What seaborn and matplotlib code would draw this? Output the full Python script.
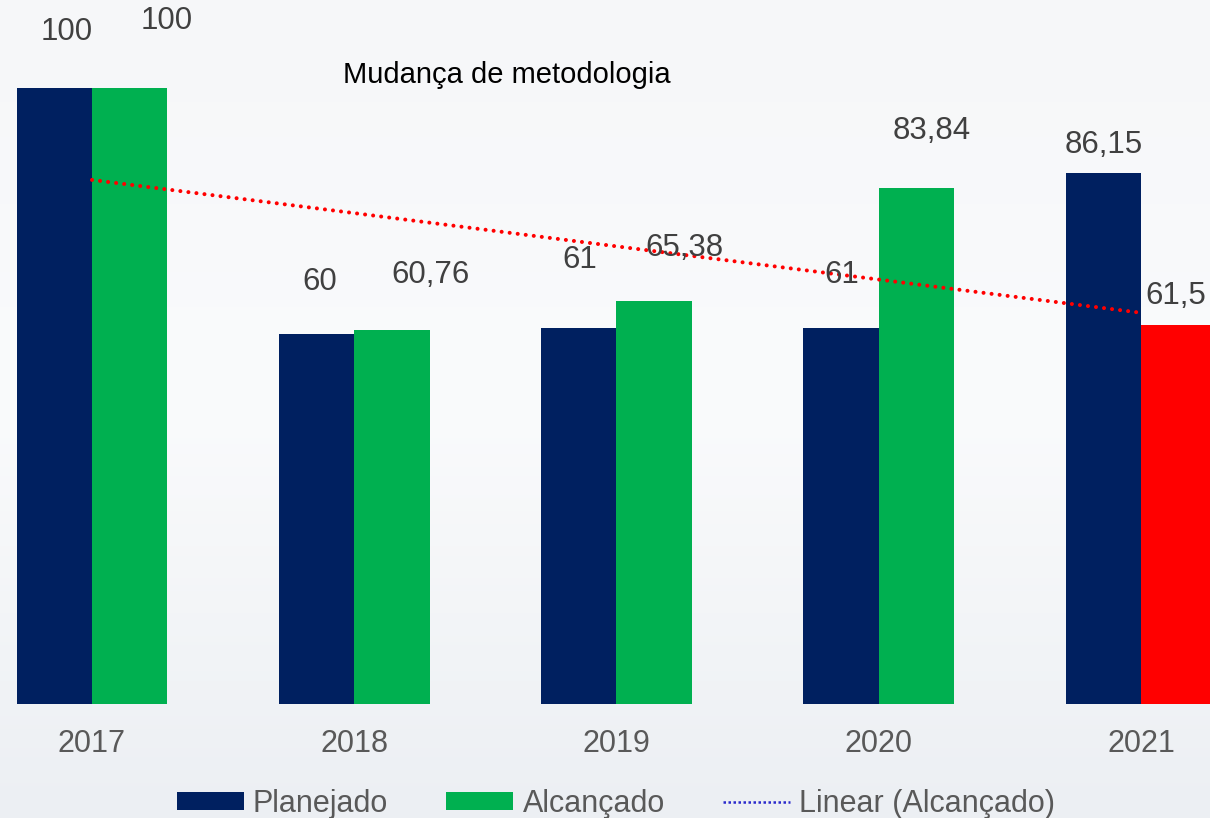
import numpy as np
import pandas as pd
import matplotlib
matplotlib.use("Agg")
import matplotlib.pyplot as plt
from matplotlib.patches import Patch
from matplotlib.lines import Line2D
from matplotlib.colors import LinearSegmentedColormap
import seaborn as sns

# ---- data ----
years = ["2017", "2018", "2019", "2020", "2021"]
planejado = [100, 60, 61, 61, 86.15]
alcancado = [100, 60.76, 65.38, 83.84, 61.5]
series_names = ["Planejado", "Alcançado"]
trend_name = "Linear (Alcançado)"
note_text = "Mudança de metodologia"

# ---- styles ----
NAVY = "#002060"
GREEN = "#00B050"
RED = "#FF0000"
LABEL_C = "#404040"
TICK_C = "#595959"
# label offsets (pixels: dx right, dy up) relative to bar top centre
off_plan = [(12, 56), (3, 52), (1, 68), (1, 53), (0, 28)]
off_alc = [(37, 67), (39, 55), (30, 53), (15, 57), (-3, 29)]

sns.set_theme(style="white")
plt.rcParams["font.family"] = ["Liberation Sans", "DejaVu Sans"]

W, H = 1210, 818
fig = plt.figure(figsize=(W / 100, H / 100), dpi=100)

# background gradient
bg = fig.add_axes([0, 0, 1, 1], zorder=0)
cmap = LinearSegmentedColormap.from_list("bg", ["#f6f7f9", "#fafbfc", "#eceff3"])
grad = np.linspace(0, 1, 256).reshape(-1, 1)
bg.imshow(grad, aspect="auto", cmap=cmap, extent=[0, 1, 0, 1], origin="upper")
bg.axis("off")

ax = fig.add_axes([0, 114 / H, 1, 704 / H], zorder=1)
ax.set_facecolor("none")

df = pd.DataFrame({
    "Ano": years * 2,
    "Valor": planejado + alcancado,
    "Serie": [series_names[0]] * len(years) + [series_names[1]] * len(years),
})

sns.barplot(data=df, x="Ano", y="Valor", hue="Serie", hue_order=series_names,
            palette=[NAVY, GREEN], saturation=1, width=0.575, gap=0,
            legend=False, ax=ax, linewidth=0)
ax.containers[1][len(years) - 1].set_facecolor(RED)

# linear trend of Alcançado
sns.regplot(x=np.arange(len(years)), y=np.array(alcancado), scatter=False, ci=None,
            truncate=True, ax=ax,
            line_kws=dict(color=RED, lw=2.9, linestyle=(0, (0.01, 2.0)),
                          dash_capstyle="round", zorder=3))

# value labels
px2pt = 0.72
for cont, vals, offs in [(ax.containers[0], planejado, off_plan),
                         (ax.containers[1], alcancado, off_alc)]:
    for bar, v, (dx, dy) in zip(cont, vals, offs):
        cx = bar.get_x() + bar.get_width() / 2
        txt = f"{v:g}".replace(".", ",")
        ax.annotate(txt, xy=(cx, v), xytext=(dx * px2pt, dy * px2pt),
                    textcoords="offset points", ha="center", va="center",
                    fontsize=22.5, color=LABEL_C, annotation_clip=False, zorder=4)

ax.set_xlim(-92 / 262.25, (W - 92) / 262.25)
ax.set_ylim(0, 704 / 6.16)
ax.set_xticks(range(len(years)))
ax.set_xticklabels(years)
ax.set_yticks([])
ax.set_xlabel("")
ax.set_ylabel("")
ax.tick_params(axis="x", length=0, pad=18, labelsize=22, labelcolor=TICK_C)
for s in ax.spines.values():
    s.set_visible(False)

fig.text(343 / W, 1 - 75 / H, note_text, ha="left", va="center", fontsize=21, color="black")

handles = [Patch(facecolor=NAVY, edgecolor="none", label=series_names[0]),
           Patch(facecolor=GREEN, edgecolor="none", label=series_names[1]),
           Line2D([], [], color="#2a2acc", lw=1.8, linestyle=(0, (1, 1)), label=trend_name)]
fig.legend(handles=handles, loc="center", bbox_to_anchor=(0.509, 1 - 804 / H),
           bbox_transform=fig.transFigure, ncol=3, frameon=False, fontsize=22,
           labelcolor=TICK_C, handlelength=2.2, handleheight=0.55,
           handletextpad=0.3, columnspacing=1.9, borderpad=0)

fig.savefig("out.png", dpi=100)
